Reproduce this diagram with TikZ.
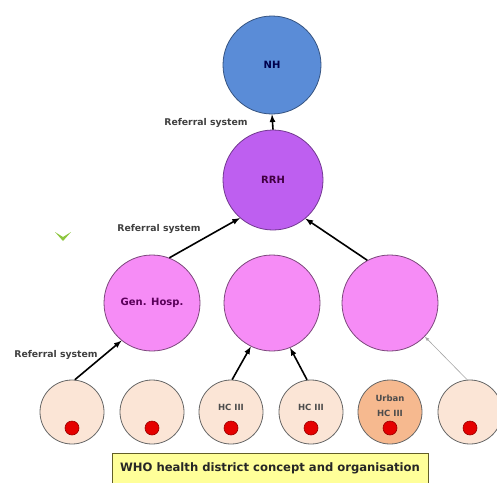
\documentclass[tikz,border=0pt]{standalone}
\usepackage{fontspec}
\setmainfont{DejaVu Sans}
\usetikzlibrary{arrows}

\definecolor{nhblue}{RGB}{90,140,215}
\definecolor{rrhpurple}{RGB}{190,95,240}
\definecolor{hosppink}{RGB}{246,140,246}
\definecolor{hcpeach}{RGB}{251,229,214}
\definecolor{urbanorange}{RGB}{246,185,143}
\definecolor{titleyellow}{RGB}{255,255,153}
\definecolor{chevgreen}{RGB}{141,198,63}

\tikzset{
  level/.style={circle, draw, line width=0.8pt, inner sep=0pt, font=\bfseries\fontsize{10}{12}\selectfont},
  hcircle/.style={level, fill=hcpeach, draw=gray!80!black, minimum size=64pt},
  reddot/.style={circle, fill=red!90!black, draw=red!60!black, line width=0.6pt, minimum size=14pt, inner sep=0pt},
  reflabel/.style={font=\bfseries\fontsize{9.3}{11}\selectfont, text=black!75},
  hclabel/.style={font=\bfseries\fontsize{8.5}{15}\selectfont, text=black!70, align=center},
  arr/.style={-latex, line width=1.6pt},
}

\begin{document}
\begin{tikzpicture}[x=1pt,y=-1pt]
  \useasboundingbox (0,0) rectangle (497,482);

  % top levels
  \node[level, fill=nhblue, draw=nhblue!60!black, minimum size=98pt, text=blue!30!black] (nh) at (272,65) {NH};
  \node[level, fill=rrhpurple, draw=rrhpurple!60!black, minimum size=100pt, text=violet!50!black] (rrh) at (273,180) {RRH};

  % hospitals
  \node[level, fill=hosppink, draw=hosppink!50!black, minimum size=96pt, text=violet!70!black] (gen) at (152,303) {Gen. Hosp.};
  \node[level, fill=hosppink, draw=hosppink!50!black, minimum size=96pt] (mid) at (272,303) {};
  \node[level, fill=hosppink, draw=hosppink!50!black, minimum size=96pt] (rightc) at (390,303) {};

  % health centres
  \foreach \x/\n in {72/hca,152/hcb,231/hcc,311/hcd,470/hcf}
    \node[hcircle] (\n) at (\x,412) {};
  \node[hcircle, fill=urbanorange] (hce) at (390,412) {};
  \foreach \n in {hca,hcb,hcc,hcd,hce,hcf}
    \node[reddot] at ([yshift=-16pt]\n.center) {};
  \node[hclabel] at ([yshift=5pt]hcc.center) {HC III};
  \node[hclabel] at ([yshift=5pt]hcd.center) {HC III};
  \node[hclabel] at ([yshift=6.5pt]hce.center) {Urban\\HC III};

  % referral arrows
  \draw[arr] (rrh.90) -- (nh.270);
  \draw[arr] (gen.69) -- (rrh.229);
  \draw[arr] (rightc.118) -- (rrh.310);
  \draw[arr] (hca.85) -- (gen.231);
  \draw[arr] (hcc.88) -- (mid.244);
  \draw[arr] (hcd.97) -- (mid.292);
  \draw[-latex, line width=0.6pt, draw=gray!70] (hcf.95) -- (rightc.316);

  \node[reflabel] at (206,123) {Referral system};
  \node[reflabel] at (159,229) {Referral system};
  \node[reflabel] at (56,355) {Referral system};

  % green marker
  \fill[chevgreen] (55,232) -- (63,237) -- (71,232) -- (63,241) -- cycle;

  % caption
  \node[draw=olive!60!black, fill=titleyellow, line width=0.8pt, minimum width=316pt, minimum height=30pt,
        font=\bfseries\fontsize{11.6}{13}\selectfont, text=black!85] (title) at (270,468)
        {WHO health district concept and organisation};
\end{tikzpicture}
\end{document}
